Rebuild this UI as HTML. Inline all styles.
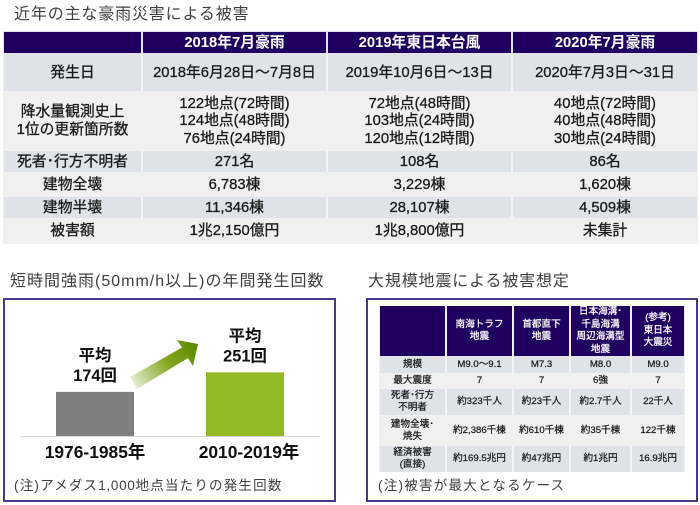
<!DOCTYPE html>
<html lang="ja">
<head>
<meta charset="utf-8">
<title>豪雨災害と地震の被害</title>
<style>
html,body{margin:0;padding:0;background:#fff;}
body{width:700px;height:505px;position:relative;overflow:hidden;font-family:"Liberation Sans","Noto Sans CJK JP",sans-serif;color:#1a1a1a;}
.title{position:absolute;font-size:16px;line-height:20px;color:#404040;white-space:nowrap;font-weight:400;letter-spacing:.85px;}
table{position:absolute;border-collapse:separate;border-spacing:0;table-layout:fixed;background:#f0f0f0;}
td{padding:0;text-align:center;vertical-align:middle;white-space:nowrap;overflow:hidden;}
#t1 td{font-size:14.8px;line-height:17.6px;font-weight:400;padding-top:2px;box-sizing:border-box;-webkit-text-stroke:.3px #1a1a1a;}
#t1 .h td{background:#1f0060;color:#fff;font-weight:700;font-size:14.8px;line-height:17px;padding-top:1px;-webkit-text-stroke:0;border:1px solid #e4e2ee;}
#t1 .d td{background:#dfe2e7;border-left:1px solid #f4f4f4;border-right:1px solid #f4f4f4;}
#t2 td{font-size:9.6px;line-height:12px;font-weight:400;-webkit-text-stroke:.25px #1a1a1a;}
#t2 .h td{background:#1f0060;color:#fff;line-height:12.6px;-webkit-text-stroke:.25px #fff;border-left:1px solid #f0f0f0;border-right:1px solid #f0f0f0;}
#t2 .d td{background:#dfe2e7;border-left:1px solid #f4f4f4;border-right:1px solid #f4f4f4;}
.panel{position:absolute;box-sizing:border-box;border:2px solid #463889;background:#fff;}
.note{position:absolute;font-size:13.5px;line-height:18px;color:#404040;white-space:nowrap;letter-spacing:1.2px;}
.num{letter-spacing:.7px;}
svg{position:absolute;left:0;top:0;}
</style>
</head>
<body>

<div class="title" style="left:14px;top:5px">近年の主な豪雨災害による被害</div>

<table id="t1" style="left:3px;top:31px;width:695px;height:213px">
<colgroup><col style="width:139px"><col style="width:185px"><col style="width:185px"><col style="width:186px"></colgroup>
<tr class="h" style="height:23px"><td></td><td>2018年7月豪雨</td><td>2019年東日本台風</td><td>2020年7月豪雨</td></tr>
<tr class="d" style="height:37px"><td>発生日</td><td>2018年6月28日～7月8日</td><td>2019年10月6日～13日</td><td>2020年7月3日～31日</td></tr>
<tr style="height:60px"><td>降水量観測史上<br>1位の更新箇所数</td><td>122地点(72時間)<br>124地点(48時間)<br>76地点(24時間)</td><td>72地点(48時間)<br>103地点(24時間)<br>120地点(12時間)</td><td>40地点(72時間)<br>40地点(48時間)<br>30地点(24時間)</td></tr>
<tr class="d" style="height:21px"><td>死者･行方不明者</td><td>271名</td><td>108名</td><td>86名</td></tr>
<tr style="height:25px"><td>建物全壊</td><td>6,783棟</td><td>3,229棟</td><td>1,620棟</td></tr>
<tr class="d" style="height:21px"><td>建物半壊</td><td>11,346棟</td><td>28,107棟</td><td>4,509棟</td></tr>
<tr style="height:26px"><td>被害額</td><td>1兆2,150億円</td><td>1兆8,800億円</td><td>未集計</td></tr>
</table>

<div class="title" style="left:10px;top:272px;letter-spacing:1px">短時間強雨(50mm/h以上)の年間発生回数</div>
<div class="panel" style="left:3px;top:298px;width:333px;height:204px"></div>

<svg id="chart" width="700" height="505" viewBox="0 0 700 505">
<defs><linearGradient id="arrowGrad" gradientUnits="userSpaceOnUse" x1="132" y1="383" x2="196" y2="346"><stop offset="0" stop-color="#e6efd6"/><stop offset=".55" stop-color="#85a821"/><stop offset="1" stop-color="#5c8a00"/></linearGradient></defs>
<polygon points="130,377 182,347.5 177,340 198,344 193,366 188,358 137,389" fill="url(#arrowGrad)"/>
<line x1="20" x2="320" y1="436.5" y2="436.5" stroke="#d9d9d9" stroke-width="1"/>
</svg>

<div class="note" style="left:14px;top:477px">(注)アメダス<span class="num">1,000</span>地点当たりの発生回数</div>

<div class="title" style="left:368px;top:272px">大規模地震による被害想定</div>
<div class="panel" style="left:366px;top:298px;width:332px;height:204px"></div>

<table id="t2" style="left:379px;top:306px;width:306px;height:164px">
<colgroup><col style="width:67px"><col style="width:67px"><col style="width:57px"><col style="width:61px"><col style="width:54px"></colgroup>
<tr class="h" style="height:47px"><td></td><td>南海トラフ<br>地震</td><td>首都直下<br>地震</td><td style="overflow:visible">日本海溝･<br>千島海溝<br>周辺海溝型<br>地震</td><td>(参考)<br>東日本<br>大震災</td></tr>
<tr class="d" style="height:17px"><td>規模</td><td>M9.0～9.1</td><td>M7.3</td><td>M8.0</td><td>M9.0</td></tr>
<tr style="height:16px"><td>最大震度</td><td>7</td><td>7</td><td>6強</td><td>7</td></tr>
<tr class="d" style="height:26px"><td>死者･行方<br>不明者</td><td>約323千人</td><td>約23千人</td><td>約2.7千人</td><td>22千人</td></tr>
<tr style="height:31px"><td>建物全壊･<br>焼失</td><td>約2,386千棟</td><td>約610千棟</td><td>約35千棟</td><td>122千棟</td></tr>
<tr class="d" style="height:26px"><td>経済被害<br>(直接)</td><td>約169.5兆円</td><td>約47兆円</td><td>約1兆円</td><td>16.9兆円</td></tr>
</table>

<div class="note" style="left:378px;top:477px;letter-spacing:1.25px">(注)被害が最大となるケース</div>

<script>
const categories = ['1976-1985年', '2010-2019年'];
const values = [174, 251];
const prefixLabels = ['平均', '平均'];
const barColors = ['#7f7f7f', '#92b926'];

const svg = document.getElementById('chart');
const NS = 'http://www.w3.org/2000/svg';
const baseY = 436;
function xBand(i) { return 56 + i * 150; }
function xCategory(i) { return 95 + i * 154; }
const bandWidth = 78;
function yScale(v) { return baseY - v * 0.2535; }

function addText(str, x, y, size) {
  const t = document.createElementNS(NS, 'text');
  t.setAttribute('x', x);
  t.setAttribute('y', y);
  t.setAttribute('text-anchor', 'middle');
  t.setAttribute('font-size', size);
  t.setAttribute('font-weight', '700');
  t.setAttribute('fill', '#111');
  t.setAttribute('font-family', '"Liberation Sans","Noto Sans CJK JP",sans-serif');
  t.textContent = str;
  svg.appendChild(t);
  return t;
}

categories.forEach(function (cat, i) {
  const top = yScale(values[i]);
  const r = document.createElementNS(NS, 'rect');
  r.setAttribute('x', xBand(i));
  r.setAttribute('y', top);
  r.setAttribute('width', bandWidth);
  r.setAttribute('height', baseY - top);
  r.setAttribute('fill', barColors[i]);
  
  
  svg.appendChild(r);
  const cx = xBand(i) + bandWidth / 2;
  const a = addText(prefixLabels[i], cx, top - 31, 16.4);
  
  
  const b = addText(values[i] + '回', cx, top - 11, 16.4);
  
  
  const c = addText(cat, xCategory(i), 458, 17.4);
  
  
});
</script>
</body>
</html>
